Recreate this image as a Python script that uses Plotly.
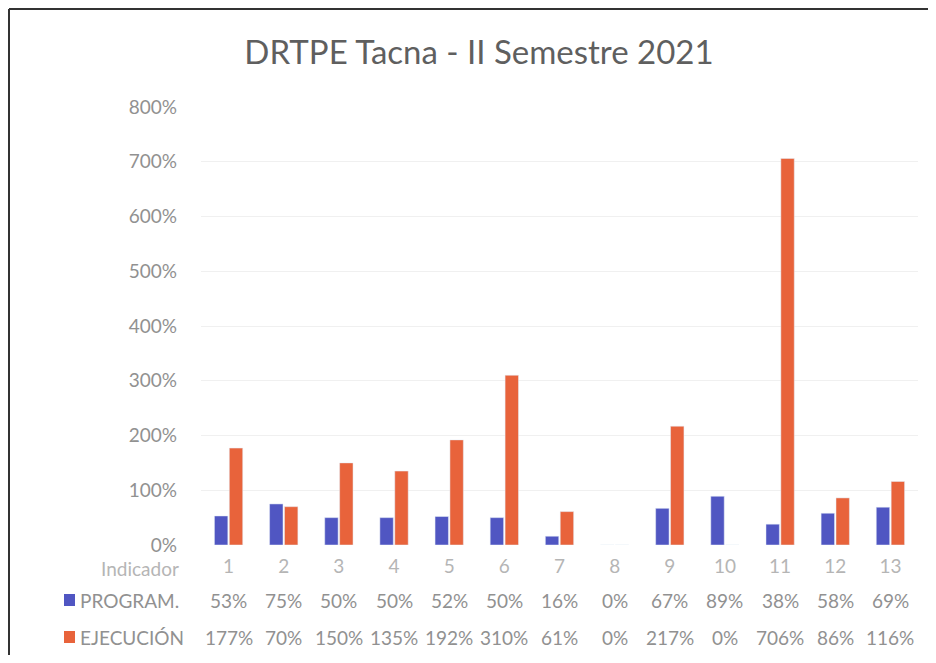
import plotly.graph_objects as go

categories = ["1", "2", "3", "4", "5", "6", "7", "8", "9", "10", "11", "12", "13"]
program = [0.53, 0.75, 0.50, 0.50, 0.52, 0.50, 0.16, 0.00, 0.67, 0.89, 0.38, 0.58, 0.69]
ejecucion = [1.77, 0.70, 1.50, 1.35, 1.92, 3.10, 0.61, 0.00, 2.17, 0.00, 7.06, 0.86, 1.16]
series_names = ["PROGRAM.", "EJECUCIÓN"]
y_ticks = [0, 1, 2, 3, 4, 5, 6, 7, 8]

BLUE = "#5056C2"
ORANGE = "#E8633B"
FONT = "Lato"

# page offset of the plot div (body margin)
OFF = 8
W, H = 936 - 2 * OFF, 663 - 2 * OFF
PL, PR, PT, PB = 201, 918, 107, 545  # plot area in screen pixels


def px(X):
    return (X - PL) / (PR - PL)


def py(Y):
    return (PB - Y) / (PB - PT)


fig = go.Figure()
fig.add_bar(x=categories, y=program, name=series_names[0], marker_color=BLUE)
fig.add_bar(x=categories, y=ejecucion, name=series_names[1], marker_color=ORANGE)

ann = []
for vals, row_y in ((program, 600), (ejecucion, 637)):
    for i, v in enumerate(vals):
        ann.append(dict(x=i, xref="x", y=py(row_y), yref="paper",
                        text=f"{round(v * 100)}%", showarrow=False,
                        font=dict(family=FONT, size=19, color="#919191"),
                        xanchor="center", yanchor="middle"))
ann.append(dict(x=px(181), xref="paper", y=py(568), yref="paper",
                text="Indicador", showarrow=False, xanchor="right", yanchor="middle",
                font=dict(family=FONT, size=19, color="#b5b5b5")))
for name, row_y in zip(series_names, (600, 637)):
    ann.append(dict(x=px(78), xref="paper", y=py(row_y), yref="paper",
                    text=name, showarrow=False, xanchor="left", yanchor="middle",
                    font=dict(family=FONT, size=19, color="#919191")))

shapes = [
    dict(type="rect", xref="paper", yref="paper", x0=px(64), x1=px(75),
         y0=py(606), y1=py(594), fillcolor=BLUE, line_width=0),
    dict(type="rect", xref="paper", yref="paper", x0=px(64), x1=px(75),
         y0=py(643), y1=py(631), fillcolor=ORANGE, line_width=0),
    dict(type="line", xref="paper", yref="paper", x0=px(9), x1=px(9),
         y0=py(OFF + H), y1=py(9), line=dict(color="#333333", width=2)),
    dict(type="line", xref="paper", yref="paper", x0=px(9), x1=px(OFF + W),
         y0=py(9), y1=py(9), line=dict(color="#333333", width=2)),
]

fig.update_layout(
    width=W, height=H,
    margin=dict(l=PL - OFF, r=W - (PR - OFF), t=PT - OFF, b=H - (PB - OFF)),
    paper_bgcolor="white", plot_bgcolor="white",
    barmode="group", bargap=0.46, bargroupgap=0.1,
    showlegend=False,
    title=dict(text="DRTPE Tacna - II Semestre 2021", x=(479 - OFF) / W, xanchor="center",
               y=1 - (52 - OFF) / H, yanchor="middle",
               font=dict(family=FONT, size=33, color="#5f5f5f")),
    xaxis=dict(type="category", showgrid=False, showline=False, ticks="",
               tickfont=dict(family=FONT, size=19, color="#b5b5b5"),
               ticklabelstandoff=8, automargin=False),
    yaxis=dict(range=[0, 8], tickvals=y_ticks,
               ticktext=[f"{t * 100}%" for t in y_ticks],
               showgrid=True, gridcolor="#f0f0f0", zeroline=False,
               tickfont=dict(family=FONT, size=19, color="#919191"),
               ticklabelstandoff=23, automargin=False),
    annotations=ann,
    shapes=shapes,
)

fig.write_html("out.html")
